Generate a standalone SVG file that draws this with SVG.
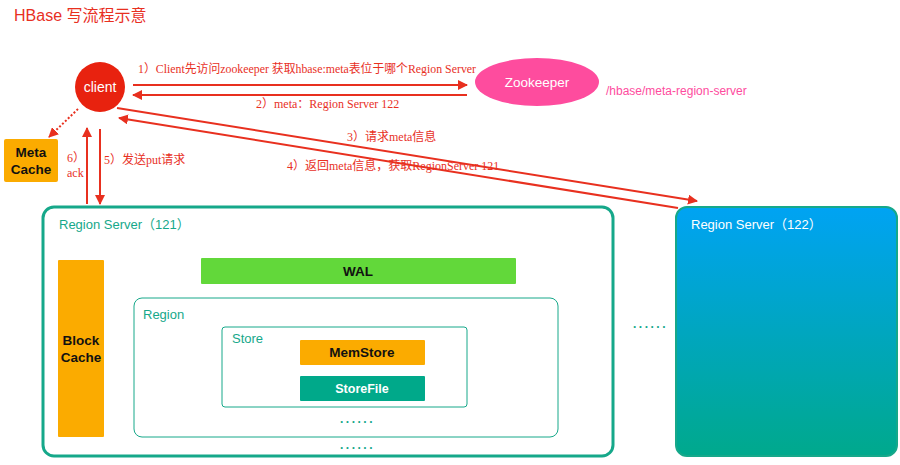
<svg xmlns="http://www.w3.org/2000/svg" width="900" height="465" viewBox="0 0 900 465">
<defs>
<style>
.red{fill:#e8301f}
.lbl{font-family:"Liberation Serif","Noto Sans CJK SC",serif;font-size:12px;fill:#e8301f}
.sans{font-family:"Liberation Sans","Noto Sans CJK SC",sans-serif}
.bold{font-weight:bold;font-size:13.5px;fill:#111}
.line{stroke:#e8301f;stroke-width:2;fill:none}
.teal{fill:#16a88a}
.dots{font-family:"Liberation Sans",sans-serif;font-size:12px;font-weight:bold;fill:#16a88a;letter-spacing:2.5px}
</style>
<marker id="ah" viewBox="0 0 10 10" refX="9" refY="5" markerWidth="5" markerHeight="5" orient="auto-start-reverse" markerUnits="strokeWidth">
<path d="M0,0 L10,5 L0,10 z" fill="#e8301f"/>
</marker>
<linearGradient id="g122" x1="0" y1="0" x2="0" y2="1">
<stop offset="0" stop-color="#00a3f3"/>
<stop offset="1" stop-color="#00a98c"/>
</linearGradient>
</defs>
<rect width="900" height="465" fill="#fff"/>
<text x="14" y="21" class="sans" font-size="16" fill="#e8301f">HBase 写流程示意</text>

<g id="client">
<circle cx="100" cy="87" r="25" fill="#e8220f"/>
<text x="100" y="92" class="sans" font-size="14" fill="#fff" text-anchor="middle">client</text>
</g>
<g id="zookeeper">
<ellipse cx="537" cy="82" rx="62" ry="24" fill="#fe4c9e"/>
<text x="537" y="87" class="sans" font-size="13.5" fill="#fff" text-anchor="middle">Zookeeper</text>
<text x="606" y="95" class="sans" font-size="12" fill="#fe4c9e">/hbase/meta-region-server</text>
</g>
<g id="metacache">
<rect x="4" y="139" width="54" height="43" rx="2" fill="#fbab00"/>
<text x="31" y="157" class="sans bold" text-anchor="middle">Meta</text>
<text x="31" y="174" class="sans bold" text-anchor="middle">Cache</text>
</g>

<g id="rs121">
<rect x="43" y="207" width="570" height="249" rx="11" fill="#fff" stroke="#16a88a" stroke-width="3"/>
<text x="59" y="229" class="sans teal" font-size="13">Region Server（121）</text>
<g id="blockcache">
<rect x="58" y="260" width="46" height="177" rx="1" fill="#fbab00"/>
<text x="81" y="345" class="sans bold" text-anchor="middle">Block</text>
<text x="81" y="362" class="sans bold" text-anchor="middle">Cache</text>
</g>
<g id="wal">
<rect x="201" y="258" width="315" height="26" rx="1" fill="#62d83a"/>
<text x="358" y="276" class="sans bold" text-anchor="middle">WAL</text>
</g>
<g id="region">
<rect x="134" y="298" width="424" height="139" rx="8" fill="#fff" stroke="#16a88a" stroke-width="1"/>
<text x="143" y="319" class="sans teal" font-size="13">Region</text>
<g id="store">
<rect x="222" y="327" width="245" height="80" rx="3" fill="#fff" stroke="#16a88a" stroke-width="1"/>
<text x="232" y="343" class="sans teal" font-size="13">Store</text>
<g id="memstore">
<rect x="300" y="340" width="125" height="25" rx="1" fill="#fbab00"/>
<text x="362" y="357" class="sans bold" font-size="12.5" text-anchor="middle">MemStore</text>
</g>
<g id="storefile">
<rect x="300" y="376" width="125" height="25" rx="1" fill="#00a98a"/>
<text x="362" y="393" class="sans" font-size="12.5" font-weight="bold" fill="#fff" text-anchor="middle">StoreFile</text>
</g>
</g>
<text x="340" y="423" class="dots">......</text>
</g>
<text x="340" y="449" class="dots">......</text>
</g>
<text x="633" y="328" class="dots" font-weight="normal" letter-spacing="0.8">......</text>

<g id="rs122">
<rect x="676" y="207" width="221" height="249" rx="11" fill="url(#g122)" stroke="#16a88a" stroke-width="2"/>
<text x="691" y="229" class="sans" font-size="13" fill="#fff">Region Server（122）</text>
</g>

<g id="connectors">
<line x1="133" y1="85" x2="467" y2="85" class="line" marker-end="url(#ah)"/>
<line x1="467" y1="95" x2="133" y2="95" class="line" marker-end="url(#ah)"/>
<line x1="78" y1="109" x2="49" y2="137" stroke="#e8301f" stroke-width="2" stroke-dasharray="2,2" marker-end="url(#ah)"/>
<line x1="87" y1="204" x2="87" y2="128" class="line" marker-end="url(#ah)"/>
<line x1="100" y1="129" x2="100" y2="204" class="line" marker-end="url(#ah)"/>
<line x1="117" y1="108" x2="697" y2="201" class="line" marker-end="url(#ah)"/>
<line x1="678" y1="208" x2="119" y2="118" class="line" marker-end="url(#ah)"/>
<text x="138" y="73" class="lbl" textLength="338" lengthAdjust="spacingAndGlyphs">1）Client先访问zookeeper 获取hbase:meta表位于哪个Region Server</text>
<text x="256" y="108" class="lbl">2）meta：Region Server 122</text>
<text x="347" y="141" class="lbl">3）请求meta信息</text>
<text x="287" y="170" class="lbl">4）返回meta信息，获取RegionServer 121</text>
<text x="104" y="164" class="lbl">5）发送put请求</text>
<text x="67" y="162" class="lbl">6）</text>
<text x="67" y="177" class="lbl">ack</text>
</g>
</svg>
